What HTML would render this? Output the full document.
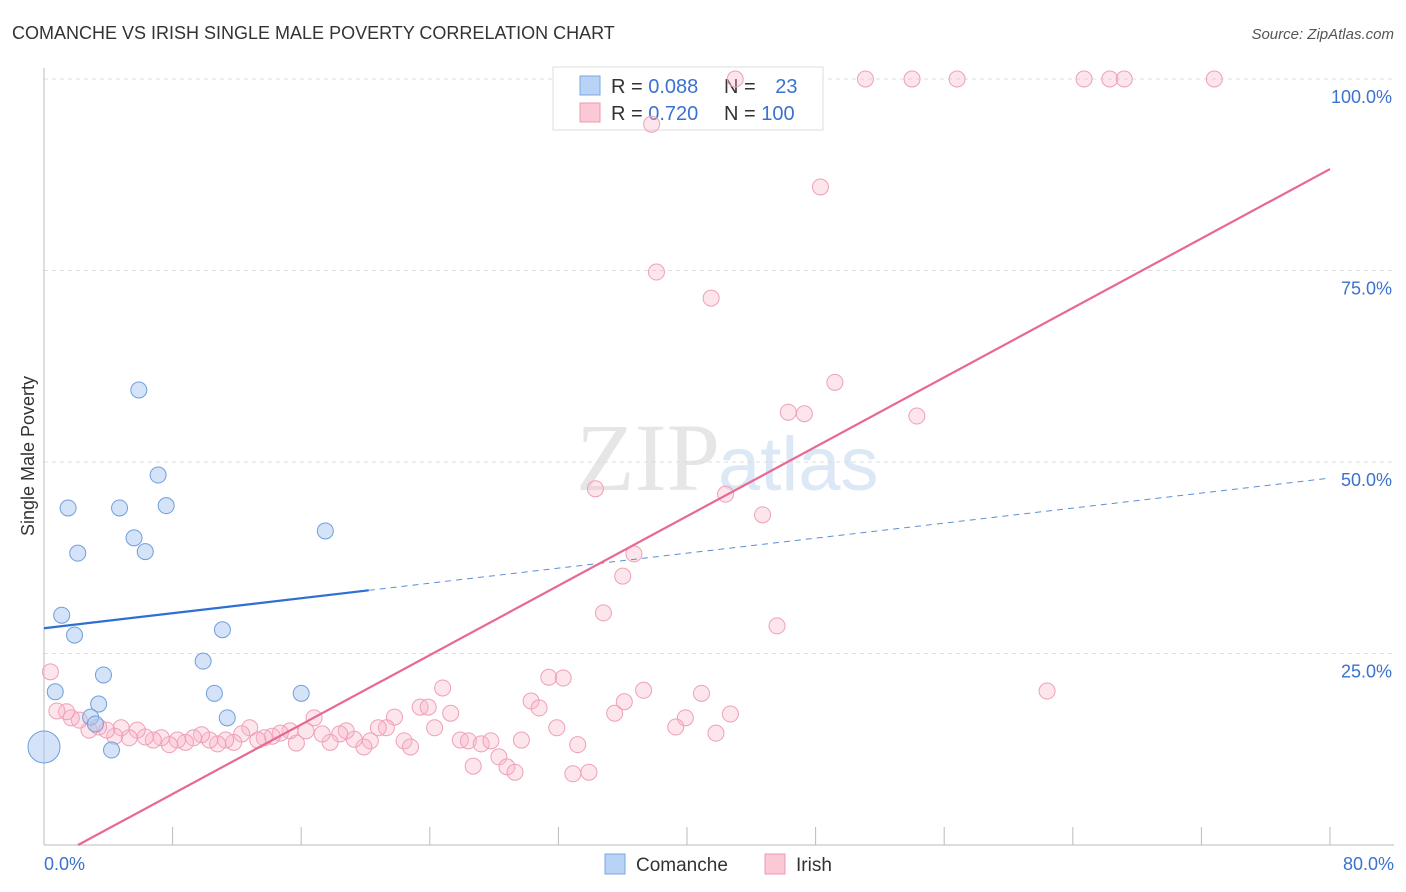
<!DOCTYPE html>
<html><head><meta charset="utf-8"><style>
body{margin:0;background:#fff;font-family:"Liberation Sans",sans-serif;}
svg{display:block}
</style></head><body>
<svg id="c" width="1406" height="892">
<text x="12" y="39" font-size="18" fill="#333">COMANCHE VS IRISH SINGLE MALE POVERTY CORRELATION CHART</text>
<text x="1394" y="39" font-size="15" fill="#555" font-style="italic" text-anchor="end">Source: ZipAtlas.com</text>
<text x="720" y="490" font-size="96" fill="#e6e6e6" text-anchor="end" font-family="Liberation Serif">ZIP</text>
<text x="718" y="490" font-size="76" fill="#dce8f5">atlas</text>
<g id="grid"></g><g id="axes"></g>
<g>
<rect x="553" y="67" width="270" height="63" fill="#fff" stroke="#ddd"/>
<rect x="580" y="76" width="20" height="19" fill="#b8d3f5" stroke="#7aa8e3"/>
<rect x="580" y="103" width="20" height="19" fill="#fbc8d6" stroke="#ee98b2"/>
<text x="611" y="93" font-size="20" fill="#333">R = <tspan fill="#3a72cf">0.088</tspan></text>
<text x="724" y="93" font-size="20" fill="#333">N = <tspan fill="#3a72cf" dx="14">23</tspan></text>
<text x="611" y="120" font-size="20" fill="#333">R = <tspan fill="#3a72cf">0.720</tspan></text>
<text x="724" y="120" font-size="20" fill="#333">N = <tspan fill="#3a72cf">100</tspan></text>
</g>
<g id="marks"></g>
<text transform="translate(34,456) rotate(-90)" font-size="18" fill="#333" text-anchor="middle">Single Male Poverty</text>
<g>
<rect x="605" y="854" width="20" height="20" fill="#b8d3f5" stroke="#7aa8e3"/>
<text x="636" y="871" font-size="19" fill="#333">Comanche</text>
<rect x="765" y="854" width="20" height="20" fill="#fbc8d6" stroke="#ee98b2"/>
<text x="796" y="871" font-size="19" fill="#333">Irish</text>
</g>
</svg>
<script>
const yTicks=[25,50,75,100];
const yTickLabels=["25.0%","50.0%","75.0%","100.0%"];
const comancheX=[1.1,1.5,2.1,1.9,0.7,3.7,3.4,2.9,3.2,4.2,4.7,5.6,6.3,5.9,7.1,7.6,11.1,9.9,10.6,11.4,16.0,17.5,0];
const comancheY=[30.0,44.0,38.1,27.4,20.0,22.2,18.4,16.7,15.8,12.4,44.0,40.1,38.3,59.4,48.3,44.3,28.1,24.0,19.8,16.6,19.8,41.0,12.8];
const irishX=[43.0,51.1,54.0,56.8,64.7,66.3,67.2,72.8,37.8,48.3,38.1,41.5,49.2,46.3,47.3,54.3,34.3,42.4,44.7,36.7,36.0,34.8,45.6,62.4,0.4,24.8,31.4,32.3,30.3,30.8,37.3,40.9,36.1,35.5,39.9,42.7,39.3,41.8,31.9,33.2,29.7,28.3,28.8,29.3,26.7,32.9,33.9,23.4,23.9,25.3,24.3,21.8,21.3,20.8,25.9,26.4,27.2,27.8,22.4,22.8,20.3,19.9,19.3,18.8,18.4,17.8,16.8,17.3,16.3,15.7,15.3,14.7,14.2,13.7,13.3,12.8,12.3,11.8,11.3,10.8,10.3,9.8,9.3,8.8,8.3,7.8,7.3,6.8,6.3,5.8,5.3,4.8,4.4,3.9,3.4,2.8,2.2,1.7,1.4,0.8];
const irishY=[100,100,100,100,100,100,100,100,94.1,85.9,74.8,71.4,60.4,56.5,56.3,56.0,46.5,45.8,43.1,38.0,35.1,30.3,28.6,20.1,22.6,20.5,21.9,21.8,18.8,17.9,20.2,19.8,18.7,17.2,16.6,17.1,15.4,14.6,15.3,13.1,13.7,11.5,10.2,9.5,10.3,9.3,9.5,18.0,18.0,17.2,15.3,16.7,15.3,15.3,13.7,13.6,13.2,13.6,13.6,12.8,13.6,12.8,13.8,14.9,14.5,13.4,16.6,14.5,14.9,13.3,14.9,14.6,14.2,14.0,13.7,15.3,14.5,13.4,13.7,13.2,13.7,14.4,14.0,13.4,13.7,13.1,14.0,13.7,14.1,15.0,14.0,15.3,14.2,15.0,15.4,15.0,16.3,16.6,17.4,17.5];
const comancheFit=[28.3,0.245];
const irishFit=[-2.4,1.133];
const X=v=>44+v*16.075, Y=v=>845-v*7.66;
const NS="http://www.w3.org/2000/svg";
function mk(t,a,p){const e=document.createElementNS(NS,t);for(const k in a)e.setAttribute(k,a[k]);p.appendChild(e);return e;}
const grid=document.getElementById('grid'),axes=document.getElementById('axes'),marks=document.getElementById('marks');
yTicks.forEach((t,i)=>{
 const l=mk('line',{x1:44,x2:1394,y1:Y(t),y2:Y(t),stroke:'#ddd','stroke-dasharray':'4,4'},grid);
 
 
 const tx=mk('text',{x:1392,y:Y(t)+24,'font-size':18,fill:'#3a72cf','text-anchor':'end'},axes);
 tx.textContent=yTickLabels[i];
 
 
});
const ax=mk('line',{x1:44,x2:1394,y1:845,y2:845,stroke:'#bbb'},axes);


const ay=mk('line',{x1:44,x2:44,y1:68,y2:845,stroke:'#bbb'},axes);


for(let i=0;i<=10;i++){const t=mk('line',{x1:X(i*8),x2:X(i*8),y1:827,y2:845,stroke:'#bbb'},axes);
 
 }
[["0.0%",44,'start'],["80.0%",1394,'end']].forEach(a=>{const t=mk('text',{x:a[1],y:870,'font-size':18,fill:'#3a72cf','text-anchor':a[2]},axes);t.textContent=a[0];
 
 });
irishX.forEach((x,i)=>{const c=mk('circle',{cx:X(x),cy:Y(irishY[i]),r:8,fill:'rgba(248,180,200,0.35)',stroke:'#eea0b8','stroke-width':1},marks);
 
 });
comancheX.forEach((x,i)=>{const c=mk('circle',{cx:X(x),cy:Y(comancheY[i]),r:i==22?16:8,fill:'rgba(170,200,240,0.5)',stroke:'#6f9fdc','stroke-width':1},marks);
 
 });
const f=(p,x)=>p[0]+p[1]*x;
let l1=mk('line',{x1:X(0),y1:Y(f(comancheFit,0)),x2:X(20.2),y2:Y(f(comancheFit,20.2)),stroke:'#2d6fd2','stroke-width':2.2},marks);


let l2=mk('line',{x1:X(20.2),y1:Y(f(comancheFit,20.2)),x2:X(80),y2:Y(f(comancheFit,80)),stroke:'#5b8fd8','stroke-width':1,'stroke-dasharray':'6,5'},marks);


const x0=-irishFit[0]/irishFit[1];
let l3=mk('line',{x1:X(x0),y1:Y(0),x2:X(80),y2:Y(f(irishFit,80)),stroke:'#e86892','stroke-width':2.2},marks);


</script>
</body></html>
